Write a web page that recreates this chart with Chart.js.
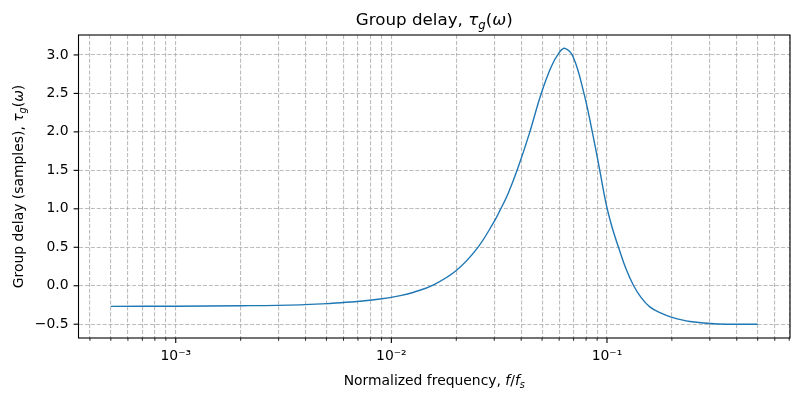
<!DOCTYPE html>
<html>
<head>
<meta charset="utf-8">
<script src="https://cdn.jsdelivr.net/npm/chart.js@4/dist/chart.umd.min.js"></script>
<style>
  html, body { margin: 0; padding: 0; background: #fff; }
  #wrap { width: 800px; height: 400px; }
</style>
</head>
<body>
<div id="wrap"><canvas id="chart"></canvas></div>
<script>
// normalized frequency f/fs and group delay (samples)
const freq = [5e-4, 1e-3, 2e-3, 3.77e-3, 5.02e-3, 6.44e-3, 8.87e-3, 0.011, 0.0127, 0.0157,
  0.02, 0.0251, 0.03, 0.0319, 0.0348, 0.0384, 0.0436, 0.0493, 0.055, 0.06,
  0.0638, 0.0698, 0.0782, 0.0852, 0.0923, 0.0993, 0.1051, 0.1137, 0.1225, 0.1324,
  0.1438, 0.158, 0.176, 0.2, 0.2425, 0.328, 0.5];
const delay = [-0.268, -0.266, -0.26, -0.248, -0.232, -0.212, -0.172, -0.128, -0.084, 0.012,
  0.198, 0.493, 0.837, 0.979, 1.2, 1.51, 1.974, 2.48, 2.84, 3.03,
  3.085, 2.97, 2.5, 2.02, 1.52, 1.05, 0.78, 0.48, 0.22, 0.01,
  -0.15, -0.275, -0.35, -0.41, -0.465, -0.497, -0.5];

const xTicks = [4e-4, 5e-4, 6e-4, 7e-4, 8e-4, 9e-4,
  1e-3, 2e-3, 3e-3, 4e-3, 5e-3, 6e-3, 7e-3, 8e-3, 9e-3,
  1e-2, 2e-2, 3e-2, 4e-2, 5e-2, 6e-2, 7e-2, 8e-2, 9e-2,
  1e-1, 2e-1, 3e-1, 4e-1, 5e-1, 6e-1, 7e-1];
const xMajorLabels = { 0.001: '10⁻³', 0.01: '10⁻²', 0.1: '10⁻¹' };
const yTicks = [-0.5, 0, 0.5, 1.0, 1.5, 2.0, 2.5, 3.0];

const titleParts = [{ t: 'Group delay, ' }, { t: 'τ', it: 1 }, { t: 'g', it: 1, sub: 1 }, { t: '(' }, { t: 'ω', it: 1 }, { t: ')' }];
const xTitleParts = [{ t: 'Normalized frequency, ' }, { t: 'f', it: 1 }, { t: '/' }, { t: 'f', it: 1 }, { t: 's', it: 1, sub: 1 }];
const yTitleParts = [{ t: 'Group delay (samples), ' }, { t: 'τ', it: 1 }, { t: 'g', it: 1, sub: 1 }, { t: '(' }, { t: 'ω', it: 1 }, { t: ')' }];

const FONT = '"DejaVu Sans", sans-serif';

function drawRich(ctx, parts, x, y, size, rot) {
  const fontFor = p => `${p.it ? 'italic ' : ''}${p.sub ? size * 0.7 : size}px ${FONT}`;
  ctx.save();
  ctx.translate(x, y);
  ctx.rotate(rot);
  let w = 0;
  parts.forEach(p => { ctx.font = fontFor(p); p.w = ctx.measureText(p.t).width; w += p.w; });
  let cx = -w / 2;
  ctx.textBaseline = 'alphabetic';
  ctx.textAlign = 'left';
  ctx.fillStyle = '#000';
  parts.forEach(p => {
    ctx.font = fontFor(p);
    ctx.fillText(p.t, cx, p.sub ? size * 0.22 : 0);
    cx += p.w;
  });
  ctx.restore();
}

const decorations = {
  id: 'decorations',
  afterDraw(chart) {
    const { ctx, chartArea: a, scales: { x, y } } = chart;
    ctx.save();
    ctx.strokeStyle = '#000';
    // tick marks
    xTicks.forEach(v => {
      const px = x.getPixelForValue(v);
      const major = xMajorLabels[v] !== undefined;
      ctx.lineWidth = major ? 1.1 : 0.85;
      ctx.beginPath();
      ctx.moveTo(px, a.bottom);
      ctx.lineTo(px, a.bottom + (major ? 4.9 : 2.8));
      ctx.stroke();
    });
    ctx.lineWidth = 1.1;
    yTicks.forEach(v => {
      const py = y.getPixelForValue(v);
      ctx.beginPath();
      ctx.moveTo(a.left, py);
      ctx.lineTo(a.left - 4.9, py);
      ctx.stroke();
    });
    // frame
    ctx.strokeRect(a.left, a.top, a.right - a.left, a.bottom - a.top);
    ctx.restore();

    const cx = (a.left + a.right) / 2;
    drawRich(ctx, titleParts, cx, 25, 16.7, 0);
    drawRich(ctx, xTitleParts, cx, 385, 13.9, 0);
    drawRich(ctx, yTitleParts, 22.8, (a.top + a.bottom) / 2, 13.9, -Math.PI / 2);
  }
};

const gridStyle = {
  color: 'rgba(176,176,176,0.85)',
  lineWidth: 1.1,
  drawTicks: false,
};

new Chart(document.getElementById('chart').getContext('2d'), {
  type: 'line',
  data: {
    datasets: [{
      data: freq.map((f, i) => ({ x: f, y: delay[i] })),
      borderColor: '#1f77b4',
      borderWidth: 1.4,
      pointRadius: 0,
      tension: 0.4,
      fill: false,
    }],
  },
  options: {
    animation: false,
    responsive: true,
    maintainAspectRatio: false,
    layout: { padding: { top: 35, right: 10, left: 0, bottom: 0 } },
    plugins: {
      legend: { display: false },
      tooltip: { enabled: false },
      title: { display: false },
    },
    scales: {
      x: {
        type: 'logarithmic',
        min: 3.54e-4,
        max: 0.706,
        grid: gridStyle,
        border: { display: false, dash: [4.1, 1.8] },
        afterBuildTicks: s => { s.ticks = xTicks.map(v => ({ value: v })); },
        afterFit: s => { s.height = 62; },
        ticks: {
          autoSkip: false,
          maxRotation: 0,
          padding: 10,
          color: '#000',
          font: { family: FONT, size: 13.9 },
          callback: v => xMajorLabels[v] || '',
        },
      },
      y: {
        type: 'linear',
        min: -0.679,
        max: 3.259,
        grid: gridStyle,
        border: { display: false, dash: [4.1, 1.8] },
        afterBuildTicks: s => { s.ticks = yTicks.map(v => ({ value: v })); },
        afterFit: s => { s.width = 78.5; },
        ticks: {
          padding: 10,
          color: '#000',
          font: { family: FONT, size: 13.9 },
          callback: v => v.toFixed(1).replace('-', '−'),
        },
      },
    },
  },
  plugins: [decorations],
});
</script>
</body>
</html>
